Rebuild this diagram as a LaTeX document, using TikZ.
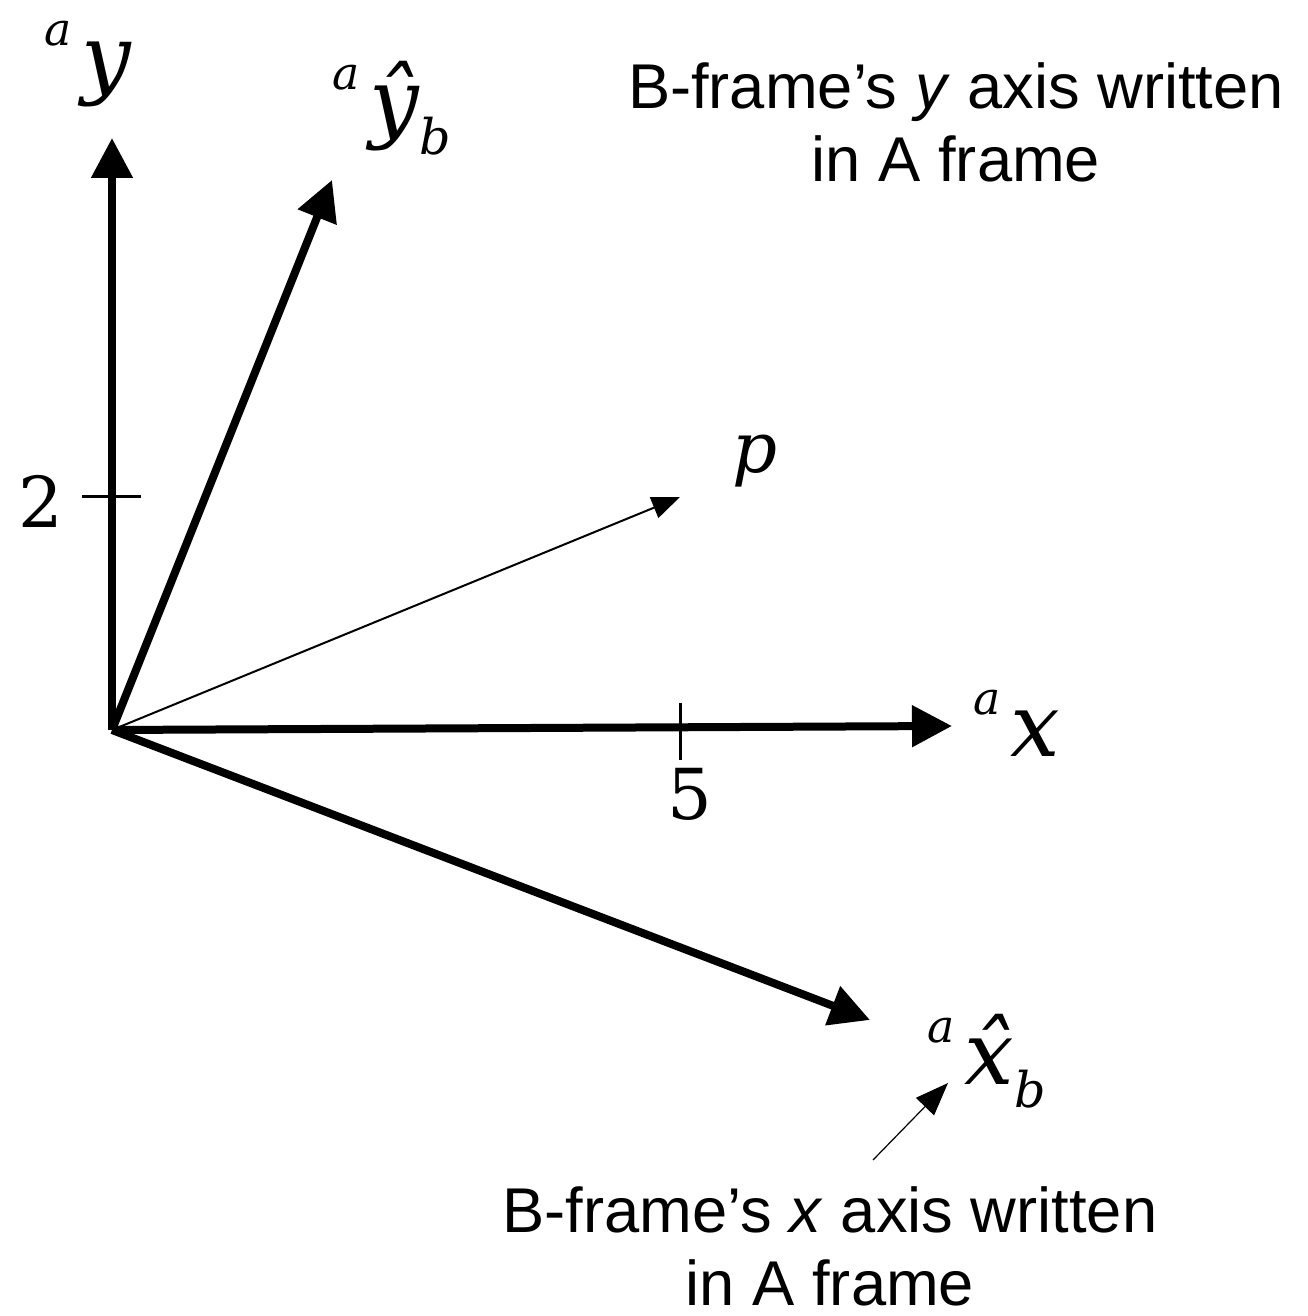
\documentclass[tikz,border=0pt]{standalone}
\usepackage{fontspec}
\setmainfont{Liberation Sans}
\newfontfamily\lblfont{DejaVu Serif}
\usetikzlibrary{positioning, arrows.meta}
\newcommand{\frsup}[1]{\raisebox{0.42cm}{\fontsize{13}{13}\selectfont #1}\hspace{0.1cm}}
\newcommand{\frsub}[1]{\raisebox{-0.23cm}{\fontsize{14}{14}\selectfont #1}}

\begin{document}
\begin{tikzpicture}[
    axisarrow/.style={line width=0.08cm, -{Triangle[length=0.4cm, width=0.4cm]}},
    vec/.style={line width=0.02cm, -{Triangle[length=0.28cm, width=0.22cm]}},
    pointer/.style={line width=0.012cm, -{Triangle[length=0.33cm, width=0.25cm]}},
    tickmark/.style={line width=0.03cm},
    lbl/.style={font=\lblfont\fontsize{25}{25}\selectfont\itshape, inner sep=0pt, anchor=base west},
    num/.style={font=\lblfont\fontsize{20}{20}\selectfont, inner sep=0pt, anchor=base west},
    notetext/.style={font=\fontsize{18}{21}\selectfont, align=center, inner sep=0pt, anchor=base},
  ]
  \useasboundingbox (0,0) rectangle (13.08,13.16);

  % origin and tips
  \coordinate (O) at (1.12,5.86);
  \coordinate (ya) at (1.12,11.78);
  \coordinate (xa) at (9.52,5.90);
  \coordinate (yb) at (3.32,11.36);
  \coordinate (xb) at (8.70,2.96);
  \coordinate (p) at (6.80,8.19);

  % A frame
  \draw[axisarrow] (O) -- (ya);
  \draw[axisarrow] (O) -- (xa);
  \draw[tickmark] (0.82,8.19) -- (1.41,8.19);
  \draw[tickmark] (6.80,6.13) -- (6.80,5.56);
  \node[num] (two) at (0.18,7.88) {2};
  \node[num] (five) at (6.67,4.96) {5};

  % B frame
  \draw[axisarrow] (O) -- (yb);
  \draw[axisarrow] (O) -- (xb);
  \draw[vec] (O) -- (p);

  % labels
  \node[lbl] (yalbl) at (0.44,12.28) {\frsup{a}y};
  \node[lbl] (yblbl) at (3.32,11.84) {\frsup{a}\^{y}\frsub{b}};
  \node[lbl] (xalbl) at (9.73,5.59) {\frsup{a}x};
  \node[lbl] (xblbl) at (9.27,2.31) {\frsup{a}\^{x}\frsub{b}};
  \node[lbl, font=\lblfont\fontsize{20}{20}\selectfont\itshape] (plbl) at (7.32,8.43) {p};

  % notes
  \node[notetext] (ynote) at (9.56,11.34) {B-frame’s \textit{y} axis written\\in A frame};
  \node[notetext] (xnote) at (8.30,0.10) {B-frame’s \textit{x} axis written\\in A frame};
  \coordinate (xnotefrom) at (8.73,1.56);
  \coordinate (xnoteto) at (9.48,2.33);
  \draw[pointer] (xnotefrom) -- (xnoteto);
\end{tikzpicture}
\end{document}
